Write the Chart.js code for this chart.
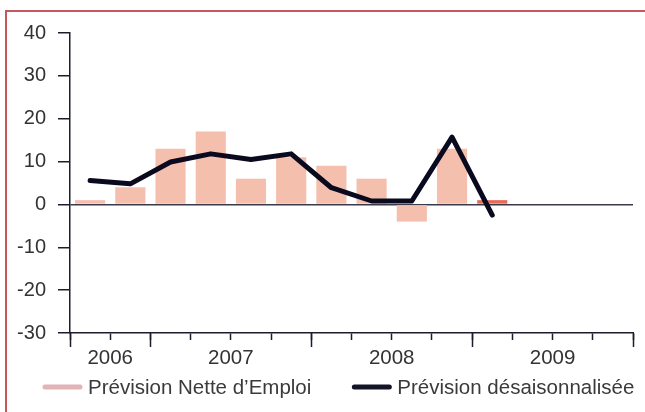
<!DOCTYPE html>
<html>
<head>
<meta charset="utf-8">
<script src="https://cdn.jsdelivr.net/npm/chart.js@4/dist/chart.umd.min.js"></script>
<style>
  html, body { margin: 0; padding: 0; background: #ffffff; }
  #wrap { position: relative; width: 645px; height: 412px; overflow: hidden; }
  #frame { position: absolute; left: 5px; top: 10px; width: 660px; height: 420px;
           border-left: 2px solid #c25a5c; border-top: 2px solid #c25a5c; box-sizing: border-box; }
  canvas { position: absolute; left: 0; top: 0; }
</style>
</head>
<body>
<div id="wrap">
  <div id="frame"></div>
  <canvas id="c" width="645" height="412"></canvas>
</div>
<script>
// ---- data ----
const quarters = ['T3 2006','T4 2006','T1 2007','T2 2007','T3 2007','T4 2007',
                  'T1 2008','T2 2008','T3 2008','T4 2008','T1 2009','T2 2009','T3 2009','T4 2009'];
const netForecast = [1, 4, 13, 17, 6, 11, 9, 6, -4, 13, 1];
const seasonalAdj = [5.6, 4.8, 9.9, 11.8, 10.5, 11.8, 3.9, 0.8, 0.8, 15.7, -2.5];
const seriesNames = ['Prévision Nette d\u2019Emploi', 'Prévision désaisonnalisée'];
const yTicks = [-30, -20, -10, 0, 10, 20, 30, 40];

// derive year groups from quarter labels
const yearOf = q => q.split(' ')[1];
const years = [];
quarters.forEach((q, i) => {
  const y = yearOf(q);
  if (!years.length || years[years.length - 1].year !== y) years.push({ year: y, first: i, last: i });
  else years[years.length - 1].last = i;
});
const yearCenter = {};
years.forEach(g => { yearCenter[(g.first + g.last + 1) / 2] = g.year; });
const yearBounds = years.map(g => g.first).concat([quarters.length]);

const FONT = "'Liberation Sans', Arial, Helvetica, sans-serif";
const AXIS = '#1c1c2c';
const BAR = '#f5bfae';
const BAR_LAST = '#e86b5a';
const LINE = '#0a0a1e';
const LEGEND_COLORS = ['#e2b4b6', '#141428'];

// simple legend drawn below the axis (two line-sample items)
const lineLegend = {
  id: 'lineLegend',
  afterDraw(chart) {
    const ctx = chart.ctx;
    const area = chart.chartArea;
    ctx.save();
    ctx.font = '20.5px ' + FONT;
    ctx.textBaseline = 'middle';
    ctx.textAlign = 'left';
    const y = area.bottom + 54;
    let x = area.left - 27;
    seriesNames.forEach((name, i) => {
      ctx.strokeStyle = LEGEND_COLORS[i];
      ctx.lineWidth = 5;
      ctx.lineCap = 'round';
      ctx.beginPath();
      ctx.moveTo(x + 2, y);
      ctx.lineTo(x + 37, y);
      ctx.stroke();
      ctx.fillStyle = '#3a3a3a';
      ctx.fillText(name, x + 45, y + 1);
      x += 45 + ctx.measureText(name).width + 41;
    });
    ctx.restore();
  }
};

new Chart(document.getElementById('c'), {
  data: {
    labels: quarters,
    datasets: [
      {
        type: 'line',
        label: seriesNames[1],
        data: seasonalAdj,
        borderColor: LINE,
        borderWidth: 5,
        pointRadius: 0,
        tension: 0,
        borderCapStyle: 'round',
        borderJoinStyle: 'round',
        order: 0
      },
      {
        type: 'bar',
        label: seriesNames[0],
        data: netForecast,
        backgroundColor: ctx => ctx.dataIndex === netForecast.length - 1 ? BAR_LAST : BAR,
        categoryPercentage: 1,
        barPercentage: 0.75,
        order: 1
      }
    ]
  },
  plugins: [lineLegend],
  options: {
    responsive: false,
    animation: false,
    devicePixelRatio: 1,
    layout: { padding: { top: 33, right: 12, bottom: 0, left: 0 } },
    plugins: {
      tooltip: { enabled: false },
      legend: { display: false }
    },
    scales: {
      x: {
        type: 'category',
        position: 'bottom',
        weight: 0,
        offset: true,
        ticks: { display: false },
        grid: { offset: true, drawOnChartArea: false, drawTicks: true, tickLength: 7,
                tickColor: AXIS, tickWidth: 1.5 },
        border: { display: true, color: AXIS, width: 1.5 },
        afterFit: s => { s.height = 0; }
      },
      x2: {
        type: 'linear',
        position: 'bottom',
        weight: 1,
        min: 0,
        max: quarters.length,
        afterBuildTicks: s => { s.ticks = quarters.map((q, i) => ({ value: i })).concat([{ value: quarters.length }]); },
        ticks: {
          autoSkip: false, maxRotation: 0, padding: -1,
          color: '#333333',
          font: { family: FONT, size: 20.5 },
          callback: v => yearCenter[v] || ''
        },
        grid: { drawOnChartArea: false, drawTicks: true, tickLength: 14, tickWidth: 1.5,
                tickColor: ctx => (ctx.tick && yearBounds.includes(ctx.tick.value)) ? AXIS : 'rgba(0,0,0,0)' },
        border: { display: false },
        afterFit: s => { s.height = 79; }
      },
      y: {
        min: yTicks[0],
        max: yTicks[yTicks.length - 1],
        afterBuildTicks: s => { s.ticks = yTicks.map(v => ({ value: v })); },
        ticks: { color: '#333333', padding: 12, font: { family: FONT, size: 20 } },
        grid: {
          drawOnChartArea: true,
          color: ctx => (ctx.tick && ctx.tick.value === 0) ? '#3a3a4a' : 'rgba(0,0,0,0)',
          lineWidth: 1.5,
          tickLength: 12,
          tickColor: AXIS,
          tickWidth: 1.5
        },
        border: { display: true, color: AXIS, width: 1.5 },
        afterFit: s => { s.width = 70; }
      }
    }
  }
});
</script>
</body>
</html>
